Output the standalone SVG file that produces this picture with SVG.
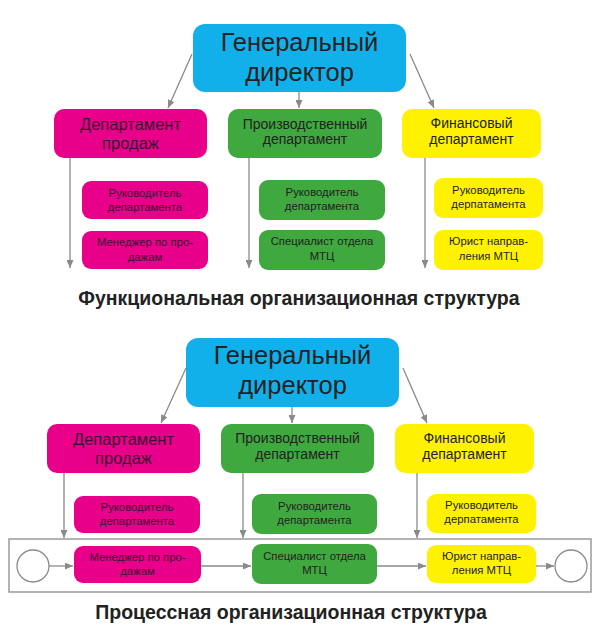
<svg xmlns="http://www.w3.org/2000/svg" width="600" height="635" viewBox="0 0 600 635">
<defs>
<marker id="ah" viewBox="0 0 8 7" refX="8" refY="3.5" markerWidth="8" markerHeight="7" markerUnits="userSpaceOnUse" orient="auto">
<path d="M0,0 L8,3.5 L0,7 z" fill="#8a8a8a"/>
</marker>
<style>
text{font-family:"Liberation Sans",Arial,sans-serif;fill:#222;text-anchor:middle}
.dir rect{fill:#12b0ea}
.mag rect{fill:#e8008a}
.grn rect{fill:#3fa83f}
.yel rect{fill:#fff200}
.big{font-size:25.5px}
.mid{font-size:16.5px}
.med{font-size:14px}
.sm{font-size:11.3px}
.title{font-size:19.5px;font-weight:bold}
.mag text{fill:#3a1030}
.con line,.con path{stroke:#8a8a8a;stroke-width:1.3;fill:none;marker-end:url(#ah)}
.lane{fill:none;stroke:#9a9a9a;stroke-width:1.5}
.ev{fill:#fff;stroke:#8a8a8a;stroke-width:1.3}
</style>
</defs>

<!-- ===== Functional structure ===== -->
<g id="f-director" class="dir"><rect x="193" y="24" width="213" height="68" rx="12"/>
<text class="big" x="299.5" y="51">Генеральный</text><text class="big" x="299.5" y="81">директор</text></g>
<g id="f-sales" class="mag"><rect x="54" y="109" width="153" height="49" rx="10"/>
<text class="mid" x="130.5" y="130">Департамент</text><text class="mid" x="130.5" y="149">продаж</text></g>
<g id="f-prod" class="grn"><rect x="228" y="109" width="154" height="49" rx="10"/>
<text class="med" x="305" y="129">Производственный</text><text class="med" x="305" y="144">департамент</text></g>
<g id="f-fin" class="yel"><rect x="402" y="109" width="139" height="49" rx="10"/>
<text class="med" x="471.5" y="128">Финансовый</text><text class="med" x="471.5" y="144">департамент</text></g>

<g id="f-sales-head" class="mag"><rect x="82" y="181" width="126" height="38" rx="9"/>
<text class="sm" x="145" y="197">Руководитель</text><text class="sm" x="145" y="211">департамента</text></g>
<g id="f-sales-mgr" class="mag"><rect x="82" y="231" width="126" height="38" rx="9"/>
<text class="sm" x="145" y="246">Менеджер по про-</text><text class="sm" x="145" y="261">дажам</text></g>
<g id="f-prod-head" class="grn"><rect x="259" y="180" width="126" height="40" rx="9"/>
<text class="sm" x="322" y="196">Руководитель</text><text class="sm" x="322" y="210">департамента</text></g>
<g id="f-prod-spec" class="grn"><rect x="259" y="230" width="126" height="40" rx="9"/>
<text class="sm" x="322" y="245">Специалист отдела</text><text class="sm" x="322" y="260">МТЦ</text></g>
<g id="f-fin-head" class="yel"><rect x="434" y="178" width="109" height="40" rx="9"/>
<text class="sm" x="488.5" y="194">Руководитель</text><text class="sm" x="488.5" y="208">дерпатамента</text></g>
<g id="f-fin-law" class="yel"><rect x="434" y="230" width="109" height="40" rx="9"/>
<text class="sm" x="488.5" y="245">Юрист направ-</text><text class="sm" x="488.5" y="260">ления МТЦ</text></g>

<g id="f-connectors" class="con">
<line x1="192" y1="54" x2="168" y2="108"/>
<line x1="299" y1="92" x2="299" y2="108"/>
<line x1="410" y1="54" x2="434" y2="108"/>
<line x1="70" y1="158" x2="70" y2="268"/>
<line x1="249" y1="158" x2="249" y2="268"/>
<line x1="425" y1="158" x2="425" y2="268"/>
</g>

<text id="f-title" class="title" x="299" y="305">Функциональная организационная структура</text>

<!-- ===== Process structure ===== -->
<g id="p-director" class="dir"><rect x="186" y="338" width="213" height="69" rx="12"/>
<text class="big" x="292.5" y="364">Генеральный</text><text class="big" x="292.5" y="394">директор</text></g>
<g id="p-sales" class="mag"><rect x="47" y="424" width="153" height="49" rx="10"/>
<text class="mid" x="123.5" y="445">Департамент</text><text class="mid" x="123.5" y="464">продаж</text></g>
<g id="p-prod" class="grn"><rect x="221" y="424" width="153" height="49" rx="10"/>
<text class="med" x="297.5" y="443">Производственный</text><text class="med" x="297.5" y="459">департамент</text></g>
<g id="p-fin" class="yel"><rect x="395" y="424" width="139" height="49" rx="10"/>
<text class="med" x="464.5" y="443">Финансовый</text><text class="med" x="464.5" y="459">департамент</text></g>

<g id="p-sales-head" class="mag"><rect x="74" y="496" width="126" height="37" rx="9"/>
<text class="sm" x="137" y="511">Руководитель</text><text class="sm" x="137" y="525">департамента</text></g>
<g id="p-prod-head" class="grn"><rect x="252" y="494" width="125" height="40" rx="9"/>
<text class="sm" x="314.5" y="510">Руководитель</text><text class="sm" x="314.5" y="524">департамента</text></g>
<g id="p-fin-head" class="yel"><rect x="427" y="494" width="109" height="39" rx="9"/>
<text class="sm" x="481.5" y="509">Руководитель</text><text class="sm" x="481.5" y="523">дерпатамента</text></g>

<rect id="p-lane" class="lane" x="9" y="539" width="582" height="53"/>

<g id="p-start"><circle class="ev" cx="33" cy="566" r="16"/></g>
<g id="p-sales-mgr" class="mag"><rect x="74" y="546" width="127" height="37" rx="9"/>
<text class="sm" x="137.5" y="561">Менеджер по про-</text><text class="sm" x="137.5" y="575">дажам</text></g>
<g id="p-prod-spec" class="grn"><rect x="252" y="544" width="125" height="40" rx="9"/>
<text class="sm" x="314.5" y="560">Специалист отдела</text><text class="sm" x="314.5" y="574">МТЦ</text></g>
<g id="p-fin-law" class="yel"><rect x="427" y="545" width="109" height="38" rx="9"/>
<text class="sm" x="481.5" y="560">Юрист направ-</text><text class="sm" x="481.5" y="574">ления МТЦ</text></g>
<g id="p-end"><circle class="ev" cx="571" cy="566" r="16"/></g>

<g id="p-connectors" class="con">
<line x1="186" y1="368" x2="161" y2="423"/>
<line x1="292" y1="407" x2="292" y2="423"/>
<line x1="403" y1="368" x2="427" y2="423"/>
<line x1="64" y1="473" x2="64" y2="538"/>
<line x1="243" y1="473" x2="243" y2="538"/>
<line x1="417" y1="473" x2="417" y2="538"/>
<line x1="49" y1="566" x2="73" y2="566"/>
<line x1="201" y1="566" x2="251" y2="566"/>
<line x1="377" y1="566" x2="426" y2="566"/>
<line x1="536" y1="566" x2="554" y2="566"/>
</g>

<text id="p-title" class="title" x="291" y="619">Процессная организационная структура</text>
</svg>
